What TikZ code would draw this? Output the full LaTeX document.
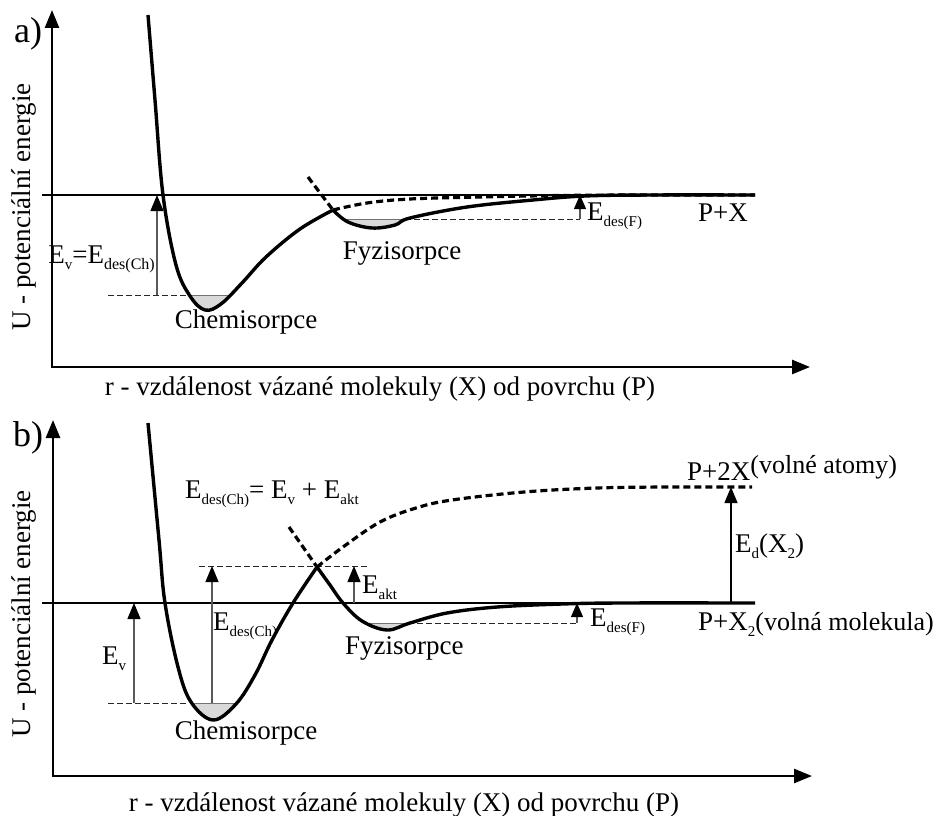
\documentclass[tikz,border=0pt]{standalone}
\usepackage{fontspec}
\setmainfont{Liberation Serif}
\usetikzlibrary{arrows.meta}
\newcommand{\lo}[2][15]{\raisebox{-6pt}{\fontsize{#1}{#1}\selectfont #2}}

\begin{document}
\begin{tikzpicture}[x=1pt, y=-1pt,
        txt/.style = {font=\fontsize{27}{32}\selectfont, inner sep=0pt},
        panel/.style = {font=\fontsize{36}{40}\selectfont, inner sep=0pt},
        axis/.style = {line width=2.6pt, {Triangle[length=18pt, width=14pt]}-{Triangle[length=18pt, width=14pt]}},
        zero/.style = {line width=1.3pt},
        curve/.style = {line width=3.4pt, line join=round},
        dcurve/.style = {line width=3.2pt, dash pattern=on 7pt off 4pt},
        level/.style = {line width=1pt, dash pattern=on 6pt off 3pt, black!85},
        top/.style = {line width=1pt, black!55},
        earrow/.style = {line width=1.2pt, black!65, -{Triangle[length=16pt, width=13pt, black]}},
        sarrow/.style = {line width=1.2pt, black!65, -{Triangle[length=14pt, width=12pt, black]}}]
    \useasboundingbox (0,0) rectangle (948,816);

    % a) potential curve, chemisorption and physisorption parts
    \path[save path=\chemA] plot[smooth, tension=0.6] coordinates {(148,15) (155,100) (163,195) (176,265) (190,296) (205,310) (221,304) (242,283) (266,257) (300,229) (333,210)};
    \path[save path=\fyzA] plot[smooth, tension=0.6] coordinates {(333,210) (348,222) (372,228) (395,225) (410,218) (467,207) (533,200) (585,196) (650,195) (755,195)};

    \draw[axis] (52,10) -- (52,367) -- (810,367);
    \draw[zero] (42,195) -- (755,195);

    \begin{scope}
        \clip[use path=\chemA];
        \fill[black!15] (100,295) rectangle (340,330);
        \draw[top] (100,295) -- (340,295);
    \end{scope}
    \begin{scope}
        \clip[use path=\fyzA];
        \fill[black!15] (330,219) rectangle (760,260);
        \draw[top] (330,219) -- (760,219);
    \end{scope}
    \draw[level] (108,295) -- (188,295);
    \draw[level] (405,219) -- (580,219);

    \coordinate (lvA) at (157,295);
    \coordinate (zA) at (157,195);
    \coordinate (fA0) at (580,219);
    \coordinate (fA1) at (580,195);
    \draw[earrow] (lvA) -- (zA);
    \draw[sarrow] (fA0) -- (fA1);

    \draw[dcurve] (308,177) -- (333,210);
    \draw[dcurve] plot[smooth, tension=0.6] coordinates {(333,210) (367,203) (410,199) (480,197) (560,195.5) (640,195) (755,195)};
    \draw[curve, use path=\chemA];
    \draw[curve, use path=\fyzA];

    \node[panel] (a) at (28,34) {a)};
    \node[txt, rotate=90] (ua) at (24,207) {U - potenciální energie};
    \node[txt, anchor=base] (ra) at (380,395) {r - vzdálenost vázané molekuly (X) od povrchu (P)};
    \node[txt, anchor=base east] (eva) at (155,263) {E\lo{v}=E\lo[16]{des(Ch)}};
    \node[txt] (chema) at (246,322) {Chemisorpce};
    \node[txt] (fyza) at (402,253) {Fyzisorpce};
    \node[txt, anchor=base west] (edfa) at (587,220) {E\lo{des(F)}};
    \node[txt, anchor=base west] (pxa) at (698,221) {P+X};

    % b) with dissociation
    \path[save path=\chemB] plot[smooth, tension=0.6] coordinates {(148,423) (159,540) (165,603) (178,667) (191,702) (213,720) (236,704) (255,675) (272,640) (293,603) (317,567)};
    \path[save path=\fyzB] plot[smooth, tension=0.6] coordinates {(317,567) (330,585) (343,603) (362,621) (387,630) (410,623) (447,613) (497,607) (562,604) (620,603) (755,603)};

    \draw[axis] (53,420) -- (53,776) -- (812,776);
    \draw[zero] (42,603) -- (755,603);

    \begin{scope}
        \clip[use path=\chemB];
        \fill[black!15] (100,703) rectangle (340,740);
        \draw[top] (100,703) -- (340,703);
    \end{scope}
    \begin{scope}
        \clip[use path=\fyzB];
        \fill[black!15] (330,623) rectangle (760,650);
        \draw[top] (330,623) -- (760,623);
    \end{scope}
    \draw[level] (108,703) -- (188,703);
    \draw[level] (199,566) -- (367,566);
    \draw[level] (408,623) -- (577,623);

    \coordinate (lvB) at (134,703);
    \coordinate (zB) at (134,603);
    \coordinate (chB) at (212,703);
    \coordinate (pkB) at (212,566);
    \coordinate (akB0) at (354,603);
    \coordinate (akB1) at (354,566);
    \coordinate (fB0) at (577,623);
    \coordinate (fB1) at (577,603);
    \coordinate (dB0) at (731,603);
    \coordinate (dB1) at (731,487);
    \draw[earrow] (lvB) -- (zB);
    \draw[earrow] (chB) -- (pkB);
    \draw[earrow] (akB0) -- (akB1);
    \draw[sarrow] (fB0) -- (fB1);
    \draw[earrow, black] (dB0) -- (dB1);

    \draw[dcurve] (289,527) -- (317,567);
    \draw[dcurve] plot[smooth, tension=0.6] coordinates {(317,567) (343,547) (380,522) (416,508) (452,500) (524,492) (597,488) (669,487) (752,487)};
    \draw[curve, use path=\chemB];
    \draw[curve, use path=\fyzB];

    \node[panel] (b) at (28,438) {b)};
    \node[txt, rotate=90] (ub) at (24,614) {U - potenciální energie};
    \node[txt, anchor=base] (rb) at (404,811) {r - vzdálenost vázané molekuly (X) od povrchu (P)};
    \node[txt, anchor=base west] (sum) at (185,498) {E\lo{des(Ch)}= E\lo{v} + E\lo{akt}};
    \node[txt, anchor=base west] (evb) at (102,664) {E\lo{v}};
    \node[txt, anchor=base west] (edchb) at (213,630) {E\lo{des(Ch)}};
    \node[txt, anchor=base west] (eakt) at (362,593) {E\lo{akt}};
    \node[txt] (chemb) at (246,733) {Chemisorpce};
    \node[txt, anchor=west] (fyzb) at (345,648) {Fyzisorpce};
    \node[txt, anchor=base west] (edfb) at (590,626) {E\lo{des(F)}};
    \node[txt, anchor=base west] (px2) at (698,630) {P+X\lo{2}{\fontsize{26}{30}\selectfont(volná molekula)}};
    \node[txt, anchor=base west] (p2x) at (687,480) {P+2X\raisebox{7pt}{\fontsize{26}{30}\selectfont(volné atomy)}};
    \node[txt, anchor=base west] (edx) at (735,552) {E\lo{d}(X\lo{2})};
\end{tikzpicture}
\end{document}
